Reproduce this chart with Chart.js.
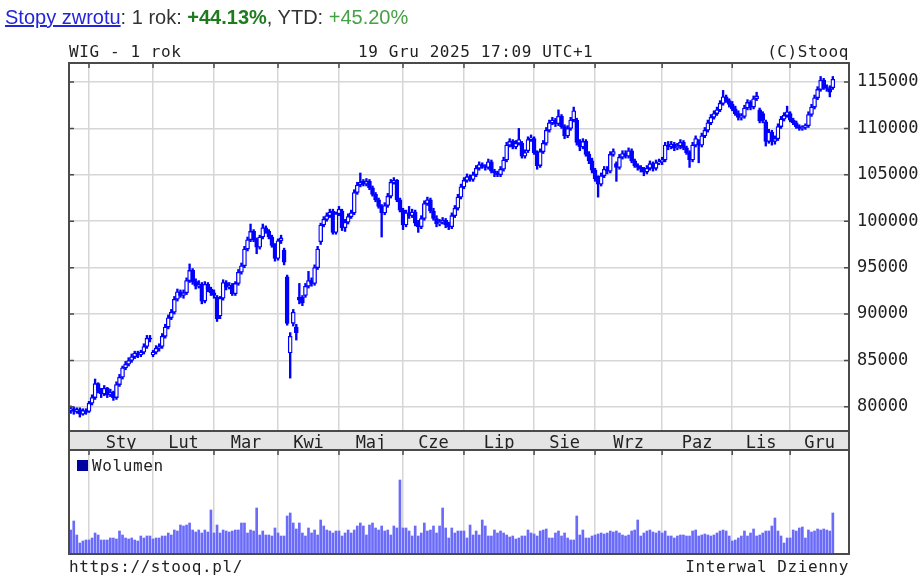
<!DOCTYPE html>
<html lang="pl">
<head>
<meta charset="utf-8">
<title>WIG - 1 rok</title>
<script src="https://cdn.jsdelivr.net/npm/chart.js@4.4.1/dist/chart.umd.min.js"></script>
<style>
  html, body { margin: 0; padding: 0; background: #fff; }
  #wrap { position: relative; width: 920px; height: 586px; overflow: hidden; }
  canvas { position: absolute; left: 0; }
  #price { top: 0; }
  #vol { top: 444px; }
  .mono { position: absolute; z-index: 2; font-family: "DejaVu Sans Mono", monospace; font-size: 16px; letter-spacing: 0.6px; line-height: 16px; color: #222; white-space: nowrap; }
  #returns { position: absolute; z-index: 2; left: 5px; top: 7px; font-family: "Liberation Sans", Arial, sans-serif; font-size: 20px; line-height: 20px; color: #333; white-space: nowrap; }
  #returns a { color: #2424d8; text-decoration: underline; }
  .up1 { color: #1e7b1e; font-weight: bold; }
  .up2 { color: #46a046; }
  #legendBox { position: absolute; z-index: 2; left: 77px; top: 460px; width: 11px; height: 11px; background: #0000a0; }
</style>
</head>
<body>
<div id="wrap">
  <div id="returns"><a>Stopy zwrotu</a>: 1 rok: <span class="up1">+44.13%</span>, YTD: <span class="up2">+45.20%</span></div>
  <div class="mono" style="left:69px; top:44px;">WIG - 1 rok</div>
  <div class="mono" style="left:358px; top:44px;">19 Gru 2025 17:09 UTC+1</div>
  <div class="mono" style="right:71px; top:44px;">(C)Stooq</div>
  <div id="legendBox"></div>
  <div class="mono" style="left:92px; top:458px;">Wolumen</div>
  <div class="mono" style="left:69px; top:559px;">https://stooq.pl/</div>
  <div class="mono" style="right:71px; top:559px;">Interwal Dzienny</div>
  <canvas id="price" width="920" height="450"></canvas>
  <canvas id="vol" width="920" height="116"></canvas>
</div>
<script>
// ==================== DATA (daily, 19 Dec 2024 - 19 Dec 2025) ====================
const opens = [
  79600, 79800, 79500, 79700, 79200, 79600,
  79500, 80400, 81000, 82500, 81800, 81400, 82000, 81300, 81600, 81000, 82400, 83200, 84200, 84600, 85000, 85400, 85800, 85600, 85900, 86500, 87400,
  85600, 85900, 86300, 86500, 87600, 88600, 89600, 90200, 91600, 92400, 92000, 92300, 93600, 94700, 93500, 93000, 93200, 91400, 93200, 92700,
  92300, 91800, 89800, 91700, 93400, 92900, 93100, 92200, 93300, 94500, 95200, 97000, 98000, 98900, 98000, 97200, 98300, 99300, 98900, 98300, 97400,
  96000, 97900, 96900, 94000, 85800, 89000, 88600, 91800, 91800, 92000, 93000, 93600, 93300, 95000, 97800, 99600, 100200, 100600, 101100, 98800,
  100800, 101100, 99300, 99900, 100500, 100900, 103100, 103900, 104300, 104000, 104300, 103600, 102900, 102300, 101600, 100900, 101700, 102700, 104200, 104400, 102300,
  101200, 99600, 100900, 100600, 101000, 99800, 99400, 100300, 101900, 102300, 101100, 100300, 99700, 99900, 100100, 99600, 99400, 100600, 101400, 102600,
  103700, 104400, 104800, 104500, 105000, 105700, 106100, 105900, 105800, 106400, 105400, 105200, 105000, 105600, 106600, 108200, 108600, 108000, 108400, 108400, 107000, 107600, 108800,
  108900, 107400, 106000, 107500, 108400, 109800, 110600, 110900, 110500, 111300, 110200, 109200, 110000, 110900, 110900, 108500, 108000, 108600, 107200, 106500,
  105500, 104600, 104000, 104900, 105600, 105400, 107200, 106200, 105800, 106900, 107300, 107000, 107600, 106500, 106000, 105800, 105600, 105300, 105700, 106200, 105700, 106300,
  106400, 106600, 108200, 108000, 108300, 107900, 108100, 108500, 107900, 107400, 106600, 108200, 108500, 108200, 109200, 109800, 110600, 111200, 111600, 112000, 112700, 113400, 113000,
  112600, 112100, 111600, 111200, 111300, 112200, 112800, 112300, 113200, 112000, 111600, 110700, 108600, 109600, 108600, 108900, 110200, 111000, 111400,
  111600, 110900, 110600, 110200, 110000, 110100, 110300, 111500, 112300, 113300, 114200, 115200, 114400, 114300, 114400
];
const highs = [
  80100, 80000, 79900, 79900, 79800, 79800,
  80600, 81300, 83000, 82600, 82000, 82300, 82100, 81900, 81700, 82700, 83500, 84400, 84900, 85300, 85700, 86000, 86000, 86100, 86800, 87700, 87700,
  86100, 86600, 86800, 87900, 88900, 89900, 90500, 91900, 92700, 92600, 92600, 93900, 95400, 94900, 93800, 93600, 93400, 93500, 93400, 92900,
  92600, 92000, 91900, 93700, 93600, 93400, 93300, 93500, 94800, 95500, 97300, 98300, 99700, 99100, 98200, 98500, 99700, 99500, 99100, 98500, 97600,
  98100, 98500, 97100, 94200, 88000, 90500, 88900, 93300, 92000, 93300, 94600, 93900, 95300, 97300, 99800, 100500, 100900, 101300, 101300, 101000,
  101600, 101300, 100200, 100800, 101200, 103400, 104200, 105200, 104500, 104600, 104500, 103800, 103100, 102500, 101800, 102000, 103000, 104500, 104700, 104500, 102500,
  101400, 101200, 101600, 101300, 101200, 100100, 100600, 102200, 102600, 102500, 101400, 100600, 100200, 100400, 100300, 99900, 100900, 101700, 102900, 104000,
  104700, 105100, 105000, 105300, 106000, 106400, 106300, 106100, 106700, 106600, 105600, 105400, 105900, 106900, 108500, 108900, 108800, 108700, 110000, 108600, 107700, 109100, 109300,
  109100, 107600, 107800, 108700, 110100, 110900, 111200, 111100, 112000, 111500, 110400, 110300, 111200, 112300, 111100, 108800, 108900, 108800, 107500, 106800,
  105700, 104900, 105200, 105900, 105900, 107500, 107800, 106400, 107200, 107600, 107600, 107900, 107800, 106700, 106200, 106000, 105800, 106000, 106500, 106400, 106600, 106700,
  106900, 108500, 108600, 108600, 108500, 108400, 108800, 108700, 108100, 107600, 108500, 109200, 108800, 109500, 110100, 110900, 111500, 111900, 112300, 113000, 114100, 113600, 113200,
  112900, 112400, 111900, 111600, 112500, 113100, 113000, 113500, 113900, 112200, 111800, 110900, 109900, 109800, 109200, 110500, 111300, 111700, 112400,
  111800, 111100, 110800, 110400, 110300, 110500, 111800, 112600, 113600, 114500, 115600, 115400, 114700, 114600, 115600
];
const lows = [
  79300, 79200, 79300, 78900, 79100, 79200,
  79400, 80200, 80800, 81500, 81000, 81200, 81000, 81100, 80700, 80800, 82200, 83000, 84000, 84400, 84800, 85200, 85300, 85400, 85700, 86300, 87000,
  85400, 85700, 86000, 86300, 87400, 88400, 89400, 90000, 91400, 91800, 91700, 92100, 93400, 93200, 92700, 92800, 91100, 91200, 92400, 92000,
  91700, 89200, 89500, 91500, 92600, 92700, 92000, 92000, 93100, 94300, 95000, 96800, 97800, 97800, 96500, 97000, 98100, 98700, 98100, 97200, 95700,
  95800, 97600, 95300, 88800, 83100, 88700, 87200, 91100, 90900, 91800, 92800, 93000, 93100, 94800, 97500, 99400, 100000, 100400, 98600, 98600,
  100600, 99000, 98900, 99700, 100300, 100700, 102900, 103700, 103800, 103800, 103400, 102700, 102100, 101400, 98300, 100700, 101500, 102500, 104000, 102100, 101000,
  99100, 99400, 100300, 100400, 99500, 98800, 99200, 100100, 101700, 100900, 100100, 99400, 99500, 99700, 99300, 99100, 99200, 100400, 101200, 102400,
  103500, 104200, 104300, 104300, 104800, 105500, 105700, 105500, 105600, 105200, 104800, 104800, 104800, 105400, 106400, 108000, 107800, 107800, 108200, 106800, 106800, 107400, 108600,
  107200, 105600, 105800, 107300, 108200, 109600, 110400, 110200, 110300, 110000, 108900, 109000, 109800, 110700, 108200, 107600, 107800, 107000, 106200, 105200,
  104300, 102600, 103800, 104700, 105100, 105200, 107000, 104300, 105600, 106700, 106800, 106800, 106300, 105800, 105500, 105300, 104900, 105100, 105500, 105400, 105500, 106100,
  106100, 106400, 107700, 107800, 107600, 107700, 107800, 107700, 107200, 105800, 106400, 108000, 106300, 108000, 109000, 109600, 110400, 111000, 111400, 111800, 112500, 112800, 112300,
  111900, 111400, 110900, 110900, 111100, 112000, 112000, 112100, 113000, 110600, 110600, 108100, 108400, 108200, 108300, 108700, 110000, 110800, 111200,
  110700, 110400, 110000, 109800, 109800, 109900, 110100, 111300, 112100, 113100, 114000, 114200, 114000, 113400, 114200
];
const closes = [
  79800, 79500, 79700, 79200, 79600, 79400,
  80400, 81000, 82500, 81800, 81400, 82000, 81300, 81600, 81000, 82400, 83200, 84200, 84600, 85000, 85400, 85800, 85600, 85900, 86500, 87400, 87300,
  85900, 86300, 86500, 87600, 88600, 89600, 90200, 91600, 92400, 92000, 92300, 93600, 94700, 93500, 93000, 93200, 91400, 93200, 92700, 92300,
  92000, 89500, 91700, 93400, 92900, 93100, 92200, 93300, 94500, 95200, 97000, 98000, 98900, 98000, 97200, 98300, 99300, 98900, 98300, 97400, 96000,
  97900, 98200, 95600, 89000, 87600, 90200, 88000, 91500, 91200, 93000, 93600, 93300, 95000, 97000, 99600, 100200, 100600, 101000, 98800, 100800,
  101300, 99300, 99900, 100500, 100900, 103100, 103900, 104200, 104000, 104300, 103600, 102900, 102300, 101600, 100900, 101700, 102700, 104200, 104400, 102300, 101200,
  99600, 100900, 100600, 101000, 99800, 99400, 100300, 101900, 102300, 101100, 100300, 99700, 99900, 100100, 99600, 99400, 100600, 101400, 102600, 103700,
  104400, 104800, 104500, 105000, 105700, 106100, 105900, 105800, 106400, 105400, 105200, 105000, 105600, 106600, 108200, 108600, 108000, 108400, 108800, 107000, 107400, 108800, 109000,
  107400, 106000, 107500, 108400, 109800, 110600, 110900, 110500, 111300, 110200, 109200, 110000, 110900, 111900, 108500, 108000, 108600, 107200, 106500, 105500,
  104600, 104000, 104900, 105600, 105400, 107200, 107500, 105800, 106900, 107300, 107000, 107600, 106500, 106000, 105800, 105600, 105300, 105700, 106200, 105700, 106300, 106400,
  106600, 108200, 108000, 108300, 107900, 108100, 108500, 107900, 107400, 106600, 108200, 108900, 108200, 109200, 109800, 110600, 111200, 111600, 112000, 112700, 113400, 113000, 112600,
  112100, 111600, 111200, 111300, 112200, 112800, 112300, 113200, 113500, 110800, 110900, 108600, 109600, 108600, 108900, 110200, 111000, 111400, 111800,
  110900, 110600, 110200, 110000, 110100, 110300, 111500, 112300, 113300, 114200, 115200, 114400, 114300, 113900, 115300
];
const volumes = [
  24, 33, 19, 11, 13, 14,
  14, 16, 21, 19, 14, 14, 14, 16, 16, 15, 23, 19, 16, 15, 16, 14, 13, 18, 16, 18, 18,
  15, 16, 16, 18, 18, 21, 19, 24, 23, 29, 28, 29, 31, 24, 22, 24, 21, 24, 22, 44,
  21, 29, 21, 24, 23, 22, 23, 24, 24, 31, 31, 21, 24, 23, 46, 19, 23, 19, 19, 18, 26,
  21, 18, 18, 38, 41, 31, 25, 31, 21, 18, 26, 21, 24, 19, 34, 28, 24, 23, 21, 23,
  23, 18, 21, 24, 21, 24, 28, 31, 28, 19, 29, 31, 26, 24, 28, 23, 24, 19, 28, 26, 74,
  26, 26, 23, 18, 28, 18, 21, 31, 23, 24, 28, 21, 28, 46, 26, 16, 26, 21, 23, 23,
  23, 16, 29, 19, 23, 19, 34, 28, 18, 18, 24, 21, 23, 21, 19, 17, 18, 15, 16, 18, 18, 24, 21,
  20, 18, 23, 24, 25, 16, 16, 21, 23, 18, 21, 16, 14, 14, 38, 19, 24, 16, 16, 18,
  19, 20, 21, 20, 21, 23, 22, 23, 21, 19, 18, 19, 23, 24, 34, 18, 21, 23, 24, 22, 21, 23,
  21, 23, 18, 18, 16, 18, 19, 19, 18, 18, 23, 24, 18, 19, 20, 19, 18, 19, 21, 23, 24, 23, 18,
  13, 14, 16, 18, 23, 18, 21, 25, 18, 19, 21, 23, 23, 28, 36, 23, 18, 11, 16,
  16, 24, 23, 26, 27, 16, 24, 22, 23, 25, 24, 25, 24, 23, 41
];
const monthNames = ["Sty", "Lut", "Mar", "Kwi", "Maj", "Cze", "Lip", "Sie", "Wrz", "Paz", "Lis", "Gru"];
const monthStarts = [6, 27, 47, 68, 88, 109, 129, 152, 172, 194, 217, 236]; // index of first session
const priceTicks = [80000, 85000, 90000, 95000, 100000, 105000, 110000, 115000];

// ==================== LAYOUT ====================
const X_MIN = -0.56, X_MAX = 255.3;
const P_MIN = 77400, P_MAX = 117050;
const V_MAX = 104;
const BLUE = "#0000ff";
const GRID = "#d6d6d6";
const FONT = { family: "DejaVu Sans Mono", size: 17 };

const days = closes.map((_, i) => i);
const monthMids = monthStarts.map((s, k) => (s + (k + 1 < monthStarts.length ? monthStarts[k + 1] : X_MAX)) / 2);

// x axis used only for the month grid lines
function monthGridAxis(position) {
  return {
    type: "linear",
    position,
    min: X_MIN,
    max: X_MAX,
    offset: false,
    grid: { color: GRID, lineWidth: 1.5, drawTicks: false, offset: false },
    border: { display: false },
    afterBuildTicks: s => { s.ticks = monthStarts.map(v => ({ value: v })); },
    afterFit: s => { s.height = 0; },
    ticks: { display: false }
  };
}

// frame, inner tick marks and the month band
const framePlugin = {
  id: "frame",
  beforeDraw(chart, args, opts) {
    const { ctx, chartArea: a } = chart;
    if (opts.band) {
      ctx.save();
      ctx.fillStyle = "#e4e4e4";
      ctx.fillRect(a.left, a.bottom, a.right - a.left, chart.height - a.bottom);
      ctx.restore();
    }
  },
  afterDraw(chart, args, opts) {
    const { ctx, chartArea: a } = chart;
    const xg = chart.scales[opts.gridAxis];
    ctx.save();
    ctx.strokeStyle = "#4a4a4a";
    ctx.lineWidth = 1.5;
    ctx.beginPath();
    xg.ticks.forEach(t => {
      const x = xg.getPixelForValue(t.value);
      ctx.moveTo(x, a.top);
      ctx.lineTo(x, a.top + 5);
    });
    if (opts.yTicks) {
      const ys = chart.scales.y;
      ys.ticks.forEach(t => {
        const y = ys.getPixelForValue(t.value);
        ctx.moveTo(a.left, y); ctx.lineTo(a.left + 5, y);
        ctx.moveTo(a.right, y); ctx.lineTo(a.right - 5, y);
      });
    }
    ctx.stroke();
    ctx.lineWidth = 2;
    ctx.strokeRect(a.left, a.top, a.right - a.left, a.bottom - a.top);
    if (opts.band) {
      ctx.beginPath();
      ctx.moveTo(a.left, a.bottom); ctx.lineTo(a.left, chart.height);
      ctx.moveTo(a.right, a.bottom); ctx.lineTo(a.right, chart.height);
      ctx.stroke();
    }
    ctx.restore();
  }
};

// ==================== PRICE CHART ====================
new Chart(document.getElementById("price"), {
  type: "bar",
  data: {
    datasets: [
      {
        label: "Korpus",
        order: 0,
        grouped: false,
        data: days.map(i => ({ x: i, y: [Math.min(opens[i], closes[i]), Math.max(opens[i], closes[i])] })),
        barThickness: 4,
        borderWidth: 1.3,
        borderSkipped: false,
        borderColor: BLUE,
        backgroundColor: c => (closes[c.dataIndex] >= opens[c.dataIndex] ? "#ffffff" : BLUE)
      },
      {
        label: "Cienie",
        order: 1,
        grouped: false,
        data: days.map(i => ({ x: i, y: [lows[i], highs[i]] })),
        barThickness: 1.7,
        borderWidth: 0,
        backgroundColor: BLUE
      }
    ]
  },
  options: {
    responsive: false,
    animation: false,
    layout: { padding: { top: 63, left: 69, right: 0, bottom: 0 } },
    plugins: {
      legend: { display: false },
      tooltip: { enabled: false },
      frame: { band: true, gridAxis: "xg", yTicks: true }
    },
    scales: {
      x: {
        type: "linear",
        position: "bottom",
        min: X_MIN,
        max: X_MAX,
        offset: false,
        grid: { display: false, offset: false },
        border: { display: false },
        afterBuildTicks: s => { s.ticks = monthMids.map(v => ({ value: v })); },
        afterFit: s => { s.height = 19; },
        ticks: {
          autoSkip: false,
          maxRotation: 0,
          padding: -6,
          color: "#222",
          font: FONT,
          callback: (v, i) => monthNames[i]
        }
      },
      xg: monthGridAxis("top"),
      y: {
        type: "linear",
        position: "right",
        min: P_MIN,
        max: P_MAX,
        grid: { color: GRID, lineWidth: 1.5, drawTicks: false },
        border: { display: false },
        afterBuildTicks: s => { s.ticks = priceTicks.map(v => ({ value: v })); },
        afterFit: s => { s.width = 71; },
        ticks: { padding: 8, color: "#222", font: FONT, callback: v => String(v) }
      }
    }
  },
  plugins: [framePlugin]
});

// ==================== VOLUME CHART ====================
new Chart(document.getElementById("vol"), {
  type: "bar",
  data: {
    datasets: [{
      label: "Wolumen",
      data: days.map(i => ({ x: i, y: volumes[i] })),
      barThickness: 2,
      borderWidth: 0,
      backgroundColor: "#6b6bfa"
    }]
  },
  options: {
    responsive: false,
    animation: false,
    layout: { padding: { top: 6, left: 69, right: 71, bottom: 6 } },
    plugins: {
      legend: { display: false },
      tooltip: { enabled: false },
      frame: { band: false, gridAxis: "x", yTicks: false }
    },
    scales: {
      x: monthGridAxis("top"),
      y: { display: false, min: 0, max: V_MAX }
    }
  },
  plugins: [framePlugin]
});
</script>
</body>
</html>
